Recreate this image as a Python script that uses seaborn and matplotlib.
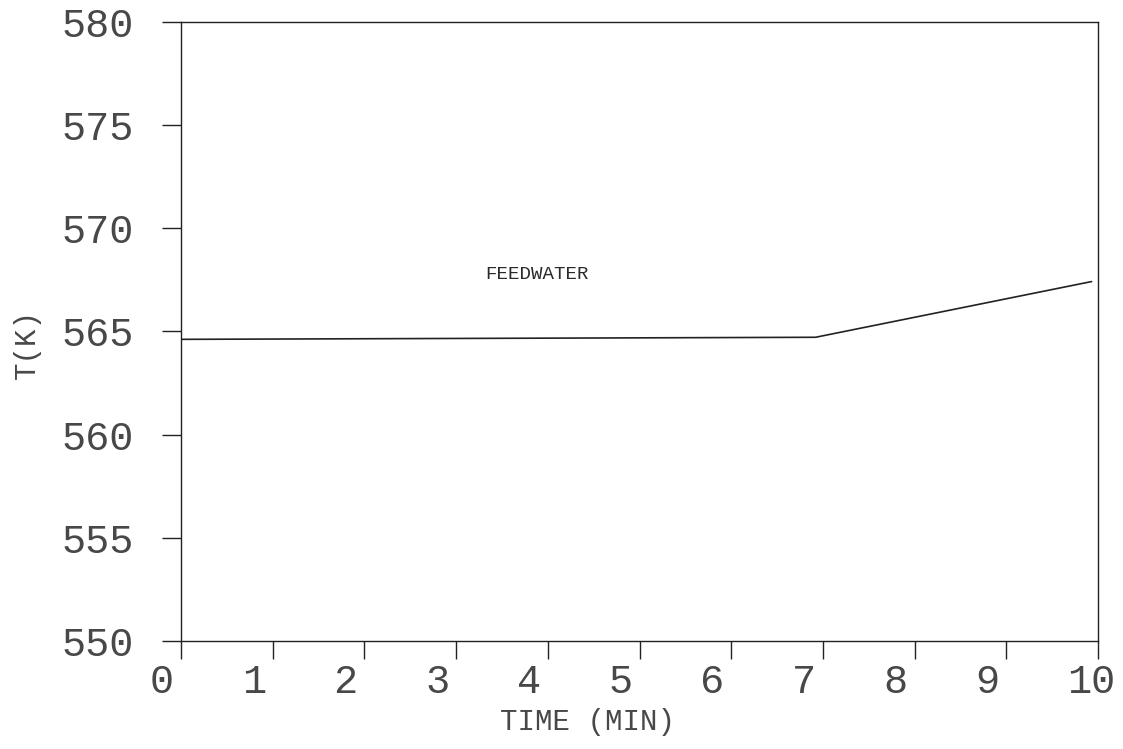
import matplotlib
matplotlib.use("Agg")
import matplotlib.pyplot as plt
import matplotlib.transforms as mtransforms
import seaborn as sns
import pandas as pd

# Feedwater temperature history
time_min = [0.0, 6.92, 9.93]
temp_k = [564.62, 564.72, 567.42]

x_ticks = [0, 1, 2, 3, 4, 5, 6, 7, 8, 9, 10]
y_ticks = [550, 555, 560, 565, 570, 575, 580]

sns.set_theme(style="ticks")
plt.rcParams["font.family"] = ["Liberation Mono", "DejaVu Sans Mono"]

df = pd.DataFrame({"time": time_min, "temp": temp_k})

fig = plt.figure(figsize=(11.23, 7.49), dpi=100)
ax = fig.add_axes([181 / 1123, 1 - 641 / 749, (1098 - 181) / 1123, (641 - 22) / 749])

sns.lineplot(data=df, x="time", y="temp", ax=ax, color="#222222", linewidth=1.2)

ax.set_xlim(0, 10)
ax.set_ylim(550, 580)
ax.set_xticks(x_ticks)
ax.set_yticks(y_ticks)
ax.set_xticklabels([str(v) for v in x_ticks])
ax.set_yticklabels([str(v) for v in y_ticks])

for side in ["left", "right", "top", "bottom"]:
    ax.spines[side].set_visible(True)
    ax.spines[side].set_color("#222222")
    ax.spines[side].set_linewidth(1.0)

text_color = "#484848"
ax.tick_params(axis="y", direction="out", length=14, width=1.0, color="#222222",
               labelsize=29, pad=20, labelcolor=text_color)
ax.tick_params(axis="x", direction="out", length=13, width=1.0, color="#222222",
               labelsize=29, pad=2.5, labelcolor=text_color)

# x tick labels sit left-aligned, starting a little left of each tick
shift = mtransforms.ScaledTranslation(-0.31, 0, fig.dpi_scale_trans)
for lab in ax.get_xticklabels():
    lab.set_ha("left")
    lab.set_transform(lab.get_transform() + shift)

ax.set_xlabel("TIME (MIN)", fontsize=21, color=text_color)
ax.xaxis.set_label_coords(0.443, -0.131)
ax.xaxis.label.set_va("center")
ax.set_ylabel("T(K)", fontsize=21, color=text_color)
ax.yaxis.set_label_coords(-0.168, 0.48)
ax.yaxis.label.set_va("center")

ax.text(3.32, 567.74, "FEEDWATER", fontsize=13.8, color="#2a2a2a", va="center", ha="left")

fig.savefig("out.png", dpi=100)
